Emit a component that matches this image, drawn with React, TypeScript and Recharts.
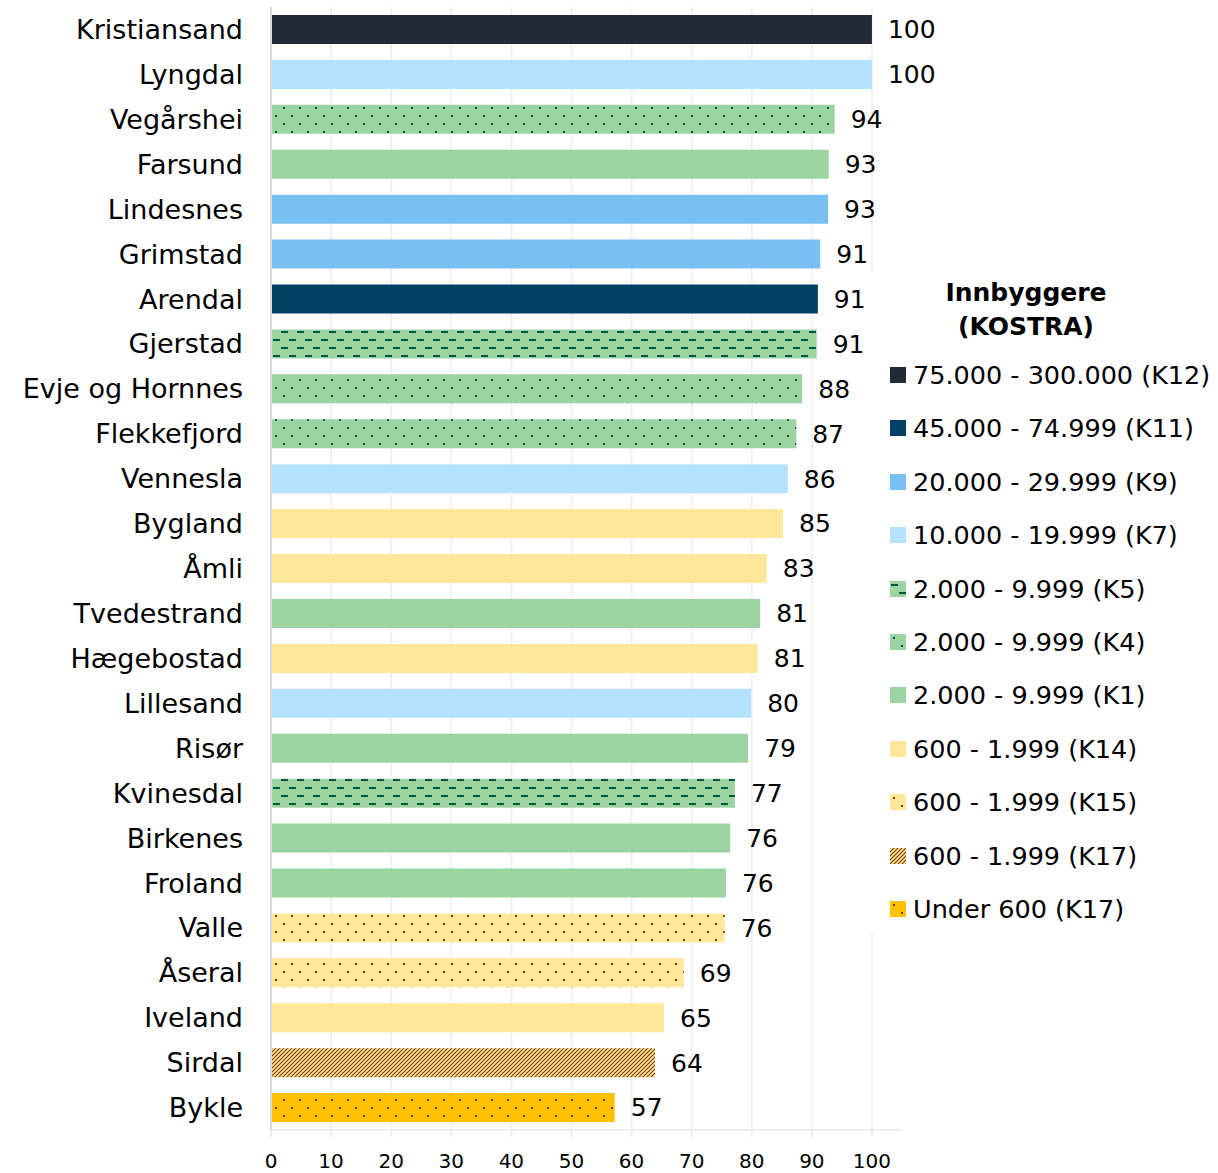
import { Bar, BarChart, CartesianGrid, Cell, LabelList, XAxis, YAxis } from "recharts";

const FONT = "'DejaVu Sans', sans-serif";

const municipalities = [
  "Kristiansand", "Lyngdal", "Vegårshei", "Farsund", "Lindesnes", "Grimstad",
  "Arendal", "Gjerstad", "Evje og Hornnes", "Flekkefjord", "Vennesla", "Bygland",
  "Åmli", "Tvedestrand", "Hægebostad", "Lillesand", "Risør", "Kvinesdal",
  "Birkenes", "Froland", "Valle", "Åseral", "Iveland", "Sirdal", "Bykle",
];

const scores = [
  100, 100, 93.8, 92.8, 92.7, 91.4, 91.0, 90.8, 88.4, 87.4, 86.0, 85.2,
  82.5, 81.4, 81.0, 79.9, 79.4, 77.2, 76.4, 75.7, 75.5, 68.7, 65.4, 63.9, 57.2,
];

const groups = [
  "K12", "K7", "K4", "K1", "K9", "K9", "K11", "K5", "K4", "K4", "K7", "K14",
  "K14", "K1", "K14", "K7", "K1", "K5", "K1", "K1", "K15", "K15", "K14", "K17", "U600",
];

const legendKeys = ["K12", "K11", "K9", "K7", "K5", "K4", "K1", "K14", "K15", "K17", "U600"];
const legendNames = [
  "75.000 - 300.000 (K12)",
  "45.000 - 74.999 (K11)",
  "20.000 - 29.999 (K9)",
  "10.000 - 19.999 (K7)",
  "2.000 - 9.999 (K5)",
  "2.000 - 9.999 (K4)",
  "2.000 - 9.999 (K1)",
  "600 - 1.999 (K14)",
  "600 - 1.999 (K15)",
  "600 - 1.999 (K17)",
  "Under 600 (K17)",
];

const xTicks = [0, 10, 20, 30, 40, 50, 60, 70, 80, 90, 100];
const X_MAX = 105;

const FILLS: Record<string, string> = {
  K12: "#222a35",
  K11: "#004165",
  K9: "#77c0f1",
  K7: "#b4e1fd",
  K5: "url(#dashGreen)",
  K4: "url(#dotGreen)",
  K1: "#9bd4a0",
  K14: "#ffe699",
  K15: "url(#dotYellow)",
  K17: "url(#diagYellow)",
  U600: "url(#dotGold)",
};

const data = municipalities.map((name, i) => ({ name, value: scores[i], group: groups[i] }));

const Patterns = () => (
  <defs>
    <pattern id="dashGreen" width="16" height="16" patternUnits="userSpaceOnUse">
      <rect width="16" height="16" fill="#9bd4a0" />
      <rect x="1" y="3" width="7" height="2" fill="#00573a" />
      <rect x="9" y="11" width="7" height="2" fill="#00573a" />
    </pattern>
    <pattern id="dotGreen" width="16" height="16" patternUnits="userSpaceOnUse">
      <rect width="16" height="16" fill="#9bd4a0" />
      <rect x="3" y="3" width="2" height="2" fill="#00573a" />
      <rect x="11" y="11" width="2" height="2" fill="#00573a" />
    </pattern>
    <pattern id="dotYellow" width="16" height="16" patternUnits="userSpaceOnUse">
      <rect width="16" height="16" fill="#ffe699" />
      <rect x="3" y="3" width="2" height="2" fill="#7f3500" />
      <rect x="11" y="11" width="2" height="2" fill="#7f3500" />
    </pattern>
    <pattern id="dotGold" width="16" height="16" patternUnits="userSpaceOnUse">
      <rect width="16" height="16" fill="#ffc000" />
      <rect x="3" y="3" width="2" height="2" fill="#7f3500" />
      <rect x="11" y="11" width="2" height="2" fill="#7f3500" />
    </pattern>
    <pattern id="diagYellow" width="4" height="4" patternUnits="userSpaceOnUse">
      <rect width="4" height="4" fill="#ffe699" />
      <path d="M-1,1 l2,-2 M0,4 l4,-4 M3,5 l2,-2" stroke="#7f3500" strokeWidth="1.1" />
    </pattern>
  </defs>
);

const LegendBox = () => (
  <div
    style={{
      position: "absolute",
      left: 866,
      top: 270,
      width: 352,
      height: 664,
      background: "#fff",
      fontFamily: FONT,
      color: "#000",
    }}
  >
    <div
      style={{
        position: "absolute",
        left: 10,
        width: 300,
        top: 6,
        textAlign: "center",
        fontWeight: "bold",
        fontSize: 25,
        lineHeight: "34px",
      }}
    >
      Innbyggere
      <br />
      (KOSTRA)
    </div>
    {legendKeys.map((key, i) => (
      <div
        key={key}
        style={{
          position: "absolute",
          left: 24,
          top: 105 + i * 53.4 - 18,
          height: 36,
          display: "flex",
          alignItems: "center",
          whiteSpace: "nowrap",
        }}
      >
        <svg width="16" height="16" style={{ marginRight: 7 }}>
          <rect width="16" height="16" fill={FILLS[key]} />
        </svg>
        <span style={{ fontSize: 25.5 }}>{legendNames[i]}</span>
      </div>
    ))}
  </div>
);

// grid only at the labelled ticks, not at the axis end
const gridX = ({ offset }: any) =>
  xTicks.map((t) => offset.left + (offset.width * t) / X_MAX);

export default function App() {
  return (
    <div style={{ position: "absolute", left: 0, top: 0, width: 1218, height: 1173, background: "#fff" }}>
      <BarChart
        width={1218}
        height={1173}
        data={data}
        layout="vertical"
        margin={{ top: 7, right: 316, bottom: 3, left: 0 }}
        barCategoryGap={0}
      >
        <Patterns />
        <CartesianGrid
          horizontal={false}
          stroke="#f0f0f0"
          strokeWidth={2}
          verticalCoordinatesGenerator={gridX}
        />
        <XAxis
          type="number"
          domain={[0, X_MAX]}
          ticks={xTicks}
          interval={0}
          height={40}
          tickSize={7}
          tickMargin={17}
          axisLine={{ stroke: "#eeeeee", strokeWidth: 2 }}
          tickLine={{ stroke: "#eeeeee", strokeWidth: 2 }}
          tick={{ fill: "#000", fontSize: 20, fontFamily: FONT }}
        />
        <YAxis
          type="category"
          dataKey="name"
          width={271}
          interval={0}
          tickSize={0}
          tickMargin={28}
          tickLine={false}
          axisLine={{ stroke: "#d9d9d9", strokeWidth: 2 }}
          tick={{ fill: "#000", fontSize: 27, fontFamily: FONT }}
        />
        <Bar dataKey="value" barSize={29} isAnimationActive={false}>
          {data.map((entry, index) => (
            <Cell key={`cell-${index}`} fill={FILLS[entry.group]} />
          ))}
          <LabelList
            dataKey="value"
            position="right"
            offset={16}
            formatter={(v: any) => Math.round(Number(v))}
            style={{ fill: "#000", fontSize: 25, fontFamily: FONT }}
          />
        </Bar>
      </BarChart>
      <LegendBox />
    </div>
  );
}
